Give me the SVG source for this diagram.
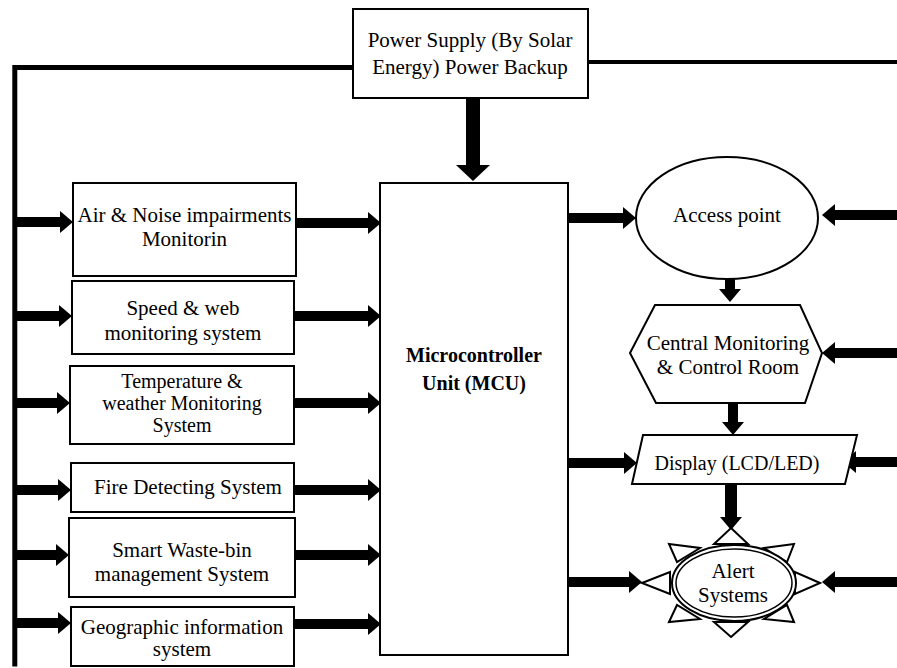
<svg xmlns="http://www.w3.org/2000/svg" width="897" height="668" viewBox="0 0 897 668">
  <style>
    .box { fill: #fff; stroke: #000; stroke-width: 2; }
    .bus { fill: none; stroke: #000; stroke-linecap: square; }
    .arr { fill: none; stroke: #000; stroke-width: 10; marker-end: url(#head); }
    .ray { fill: #fff; stroke: #000; stroke-width: 2; stroke-linejoin: miter; }
    text { font-family: "Liberation Serif", "DejaVu Serif", serif; font-size: 21px; fill: #000; text-anchor: middle; }
    .bold { font-weight: bold; font-size: 20px; }
    .tight { font-size: 20px; }
  </style>
  <defs>
    <marker id="head" markerUnits="userSpaceOnUse" markerWidth="13" markerHeight="22" refX="0" refY="11" orient="auto" overflow="visible">
      <path d="M0,0 L13,11 L0,22 Z" fill="#000"/>
    </marker>
    <marker id="headBig" markerUnits="userSpaceOnUse" markerWidth="16" markerHeight="34" refX="0" refY="17" orient="auto" overflow="visible">
      <path d="M0,0 L16,17 L0,34 Z" fill="#000"/>
    </marker>
  </defs>

  <rect width="897" height="668" fill="#fff"/>

  <!-- connectors -->
  <g id="connectors">
    <!-- power distribution bus -->
    <polyline class="bus" stroke-width="5" points="353,67.5 14.8,67.5 14.8,664"/>
    <line class="bus" stroke-width="4" x1="588" y1="62" x2="897" y2="62"/>
    <!-- power to MCU -->
    <line x1="473" y1="98" x2="473" y2="165" stroke="#000" stroke-width="14" marker-end="url(#headBig)"/>

    <!-- bus to sensing modules -->
    <line class="arr" x1="17" y1="222" x2="60" y2="222"/>
    <line class="arr" x1="17" y1="316" x2="59" y2="316"/>
    <line class="arr" x1="17" y1="403" x2="57" y2="403"/>
    <line class="arr" x1="17" y1="490" x2="58" y2="490"/>
    <line class="arr" x1="17" y1="555" x2="56" y2="555"/>
    <line class="arr" x1="17" y1="623" x2="58" y2="623"/>

    <!-- sensing modules to MCU -->
    <line class="arr" x1="296" y1="223" x2="368" y2="223"/>
    <line class="arr" x1="294" y1="316" x2="368" y2="316"/>
    <line class="arr" x1="294" y1="403" x2="368" y2="403"/>
    <line class="arr" x1="294" y1="490" x2="368" y2="490"/>
    <line class="arr" x1="295" y1="555" x2="368" y2="555"/>
    <line class="arr" x1="294" y1="624" x2="368" y2="624"/>

    <!-- MCU to outputs -->
    <line class="arr" x1="568" y1="218" x2="623" y2="218"/>
    <line class="arr" x1="568" y1="463" x2="624" y2="463"/>
    <line class="arr" x1="568" y1="582" x2="629" y2="582"/>

    <!-- right bus to outputs -->
    <line class="arr" x1="897" y1="215" x2="835" y2="215"/>
    <line class="arr" x1="897" y1="353" x2="835" y2="353"/>
    <line class="arr" x1="897" y1="462" x2="856" y2="462"/>
    <line class="arr" x1="897" y1="582" x2="835" y2="582"/>

    <!-- output chain -->
    <line class="arr" x1="730" y1="279" x2="730" y2="289"/>
    <line class="arr" x1="733" y1="403" x2="733" y2="422"/>
    <line x1="731" y1="484" x2="731" y2="517" stroke="#000" stroke-width="12" marker-end="url(#head)"/>
  </g>

  <g font-family="Liberation Serif, DejaVu Serif, serif">
  <!-- power supply -->
  <g id="power">
    <rect class="box" x="353" y="9" width="235" height="89"/>
    <text x="470" y="47">Power Supply (By Solar</text>
    <text x="470" y="74">Energy) Power Backup</text>
  </g>

  <!-- microcontroller -->
  <g id="mcu">
    <rect class="box" x="380" y="183" width="188" height="472"/>
    <text class="bold" x="474" y="362">Microcontroller</text>
    <text class="bold" x="474" y="390">Unit (MCU)</text>
  </g>

  <!-- sensing modules -->
  <g id="air-noise">
    <rect class="box" x="73" y="183" width="223" height="93"/>
    <text x="184.5" y="222">Air &amp; Noise impairments</text>
    <text x="184.5" y="246">Monitorin</text>
  </g>
  <g id="speed-web">
    <rect class="box" x="72" y="281" width="222" height="73"/>
    <text x="183" y="315">Speed &amp; web</text>
    <text x="183" y="340">monitoring system</text>
  </g>
  <g id="temperature">
    <rect class="box" x="70" y="366" width="224" height="78"/>
    <text class="tight" x="182" y="388">Temperature &amp;</text>
    <text class="tight" x="182" y="410">weather Monitoring</text>
    <text class="tight" x="182" y="432">System</text>
  </g>
  <g id="fire">
    <rect class="box" x="71" y="463" width="223" height="49"/>
    <text x="188" y="494">Fire Detecting System</text>
  </g>
  <g id="waste-bin">
    <rect class="box" x="69" y="518" width="226" height="79"/>
    <text x="182" y="557">Smart Waste-bin</text>
    <text x="182" y="581">management System</text>
  </g>
  <g id="gis">
    <rect class="box" x="71" y="607" width="223" height="59"/>
    <text x="182" y="634">Geographic information</text>
    <text x="182" y="656">system</text>
  </g>

  <!-- outputs -->
  <g id="access-point">
    <ellipse class="box" cx="727" cy="218" rx="91" ry="61"/>
    <text x="727" y="222">Access point</text>
  </g>
  <g id="control-room">
    <polygon class="box" points="655,305 800,305 822,353 805,403 656,403 630,353"/>
    <text x="728" y="350">Central Monitoring</text>
    <text x="728" y="374">&amp; Control Room</text>
  </g>
  <g id="display">
    <polygon class="box" points="643,435 857,435 845,484 632,484"/>
    <text x="737" y="470" style="font-size:20px">Display (LCD/LED)</text>
  </g>
  <g id="alert">
    <polygon class="ray" points="731,528 748,544 714,544"/>
    <polygon class="ray" points="731,637 748,622 714,622"/>
    <polygon class="ray" points="642,583 670,572 670,594"/>
    <polygon class="ray" points="820,583 795,572 795,594"/>
    <polygon class="ray" points="669,544 700,548 677,562"/>
    <polygon class="ray" points="794,544 764,548 787,562"/>
    <polygon class="ray" points="669,622 677,605 700,619"/>
    <polygon class="ray" points="794,622 787,605 764,619"/>
    <ellipse class="box" cx="734" cy="583" rx="62" ry="38"/>
    <ellipse cx="734" cy="583" rx="58" ry="34" fill="none" stroke="#000" stroke-width="1.5"/>
    <text x="733" y="578">Alert</text>
    <text x="733" y="602">Systems</text>
  </g>
  </g>
</svg>
